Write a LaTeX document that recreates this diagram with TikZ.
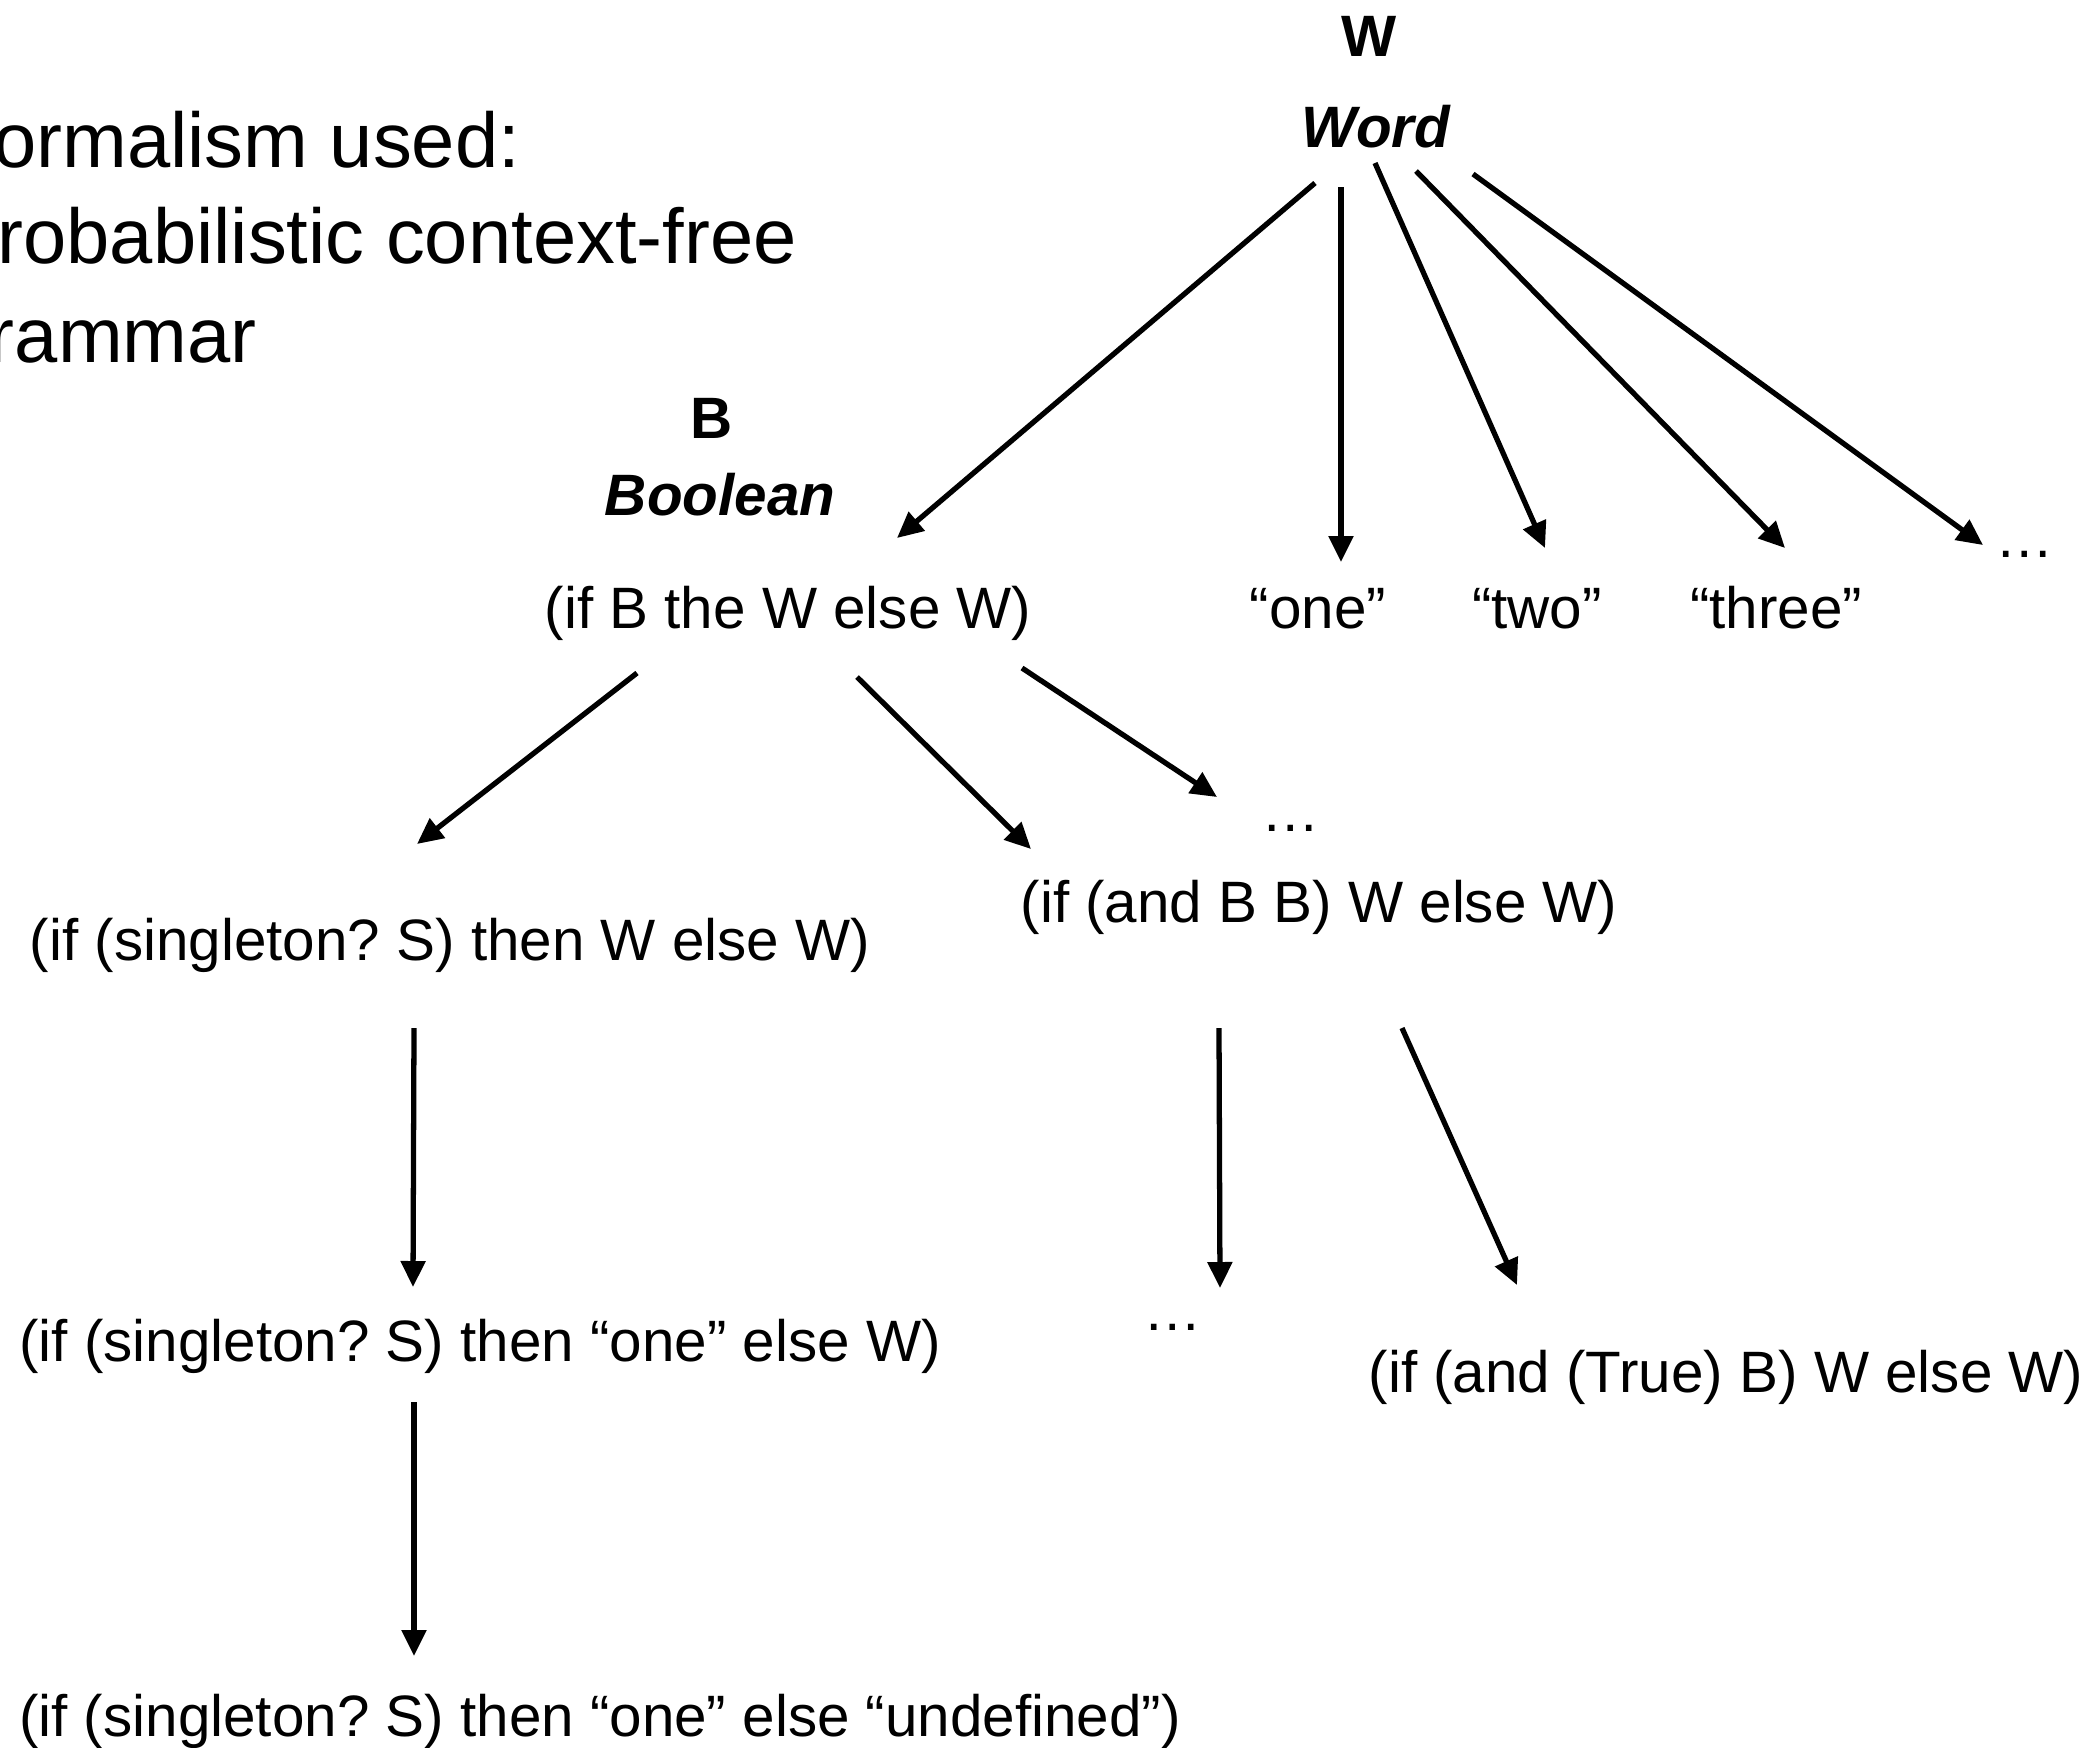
\documentclass[tikz,border=0pt]{standalone}
\usepackage{fontspec}
\setmainfont{Liberation Sans}
\usetikzlibrary{arrows.meta,calc}
\frenchspacing

\tikzset{
  lbl/.style={anchor=base, inner sep=0pt, font=\fontsize{16.6}{20}\selectfont},
  hdr/.style={lbl, font=\fontsize{16.6}{20}\selectfont\bfseries},
  hdri/.style={lbl, font=\fontsize{16.6}{20}\selectfont\bfseries\itshape},
  ttl/.style={anchor=base west, inner sep=0pt, font=\fontsize{22.1}{27}\selectfont},
  arr/.style={-{Triangle[length=0.26cm,width=0.24cm]}, line width=1.5pt},
}

\begin{document}
\begin{tikzpicture}[x=0.01cm, y=-0.01cm]
  \useasboundingbox (0,0) rectangle (2094,1747);

  % heading on the left
  \node[ttl] (ttlA) at (-55,167) {Formalism used:};
  \node[ttl] (ttlB) at (-55,263) {Probabilistic context-free};
  \node[ttl] (ttlC) at (-55,362) {grammar};

  % nonterminals
  \node[hdr]  (wW)   at (1369,56)  {W};
  \node[hdri] (word) at (1376,147) {Word};
  \node[hdr]  (bB)   at (712,438)  {B};
  \node[hdri] (bool) at (720,515)  {Boolean};

  % expansions
  \node[lbl] (ifb)   at (788,628)  {(if B the W else W)};
  \node[lbl] (one)   at (1318,628) {“one”};
  \node[lbl] (two)   at (1537,628) {“two”};
  \node[lbl] (three) at (1776,628) {“three”};
  \node[lbl] (dotsA) at (2025,557) {…};

  \node[lbl] (dotsB)   at (1291,831)  {…};
  \node[lbl] (andbb)   at (1319,922)  {(if (and B B) W else W)};
  \node[lbl] (sing)    at (450,960)   {(if (singleton? S) then W else W)};
  \node[lbl] (singone) at (480,1361)  {(if (singleton? S) then “one” else W)};
  \node[lbl] (dotsC)   at (1173,1330) {…};
  \node[lbl] (andtrue) at (1726,1392) {(if (and (True) B) W else W)};
  \node[lbl] (undef)   at (600,1736)  {(if (singleton? S) then “one” else “undefined”)};

  % Word rules
  \draw[arr] ($(word.base)+(-61,36)$) -- ($(ifb.base)+(109,-90)$);
  \draw[arr] ($(word.base)+(-35,40)$) -- ($(one.base)+(23,-66)$);
  \draw[arr] ($(word.base)+(-1,16)$)  -- ($(two.base)+(8,-80)$);
  \draw[arr] ($(word.base)+(40,24)$)  -- ($(three.base)+(9,-80)$);
  \draw[arr] ($(word.base)+(97,27)$)  -- ($(dotsA.base)+(-42,-12)$);

  % Boolean rules
  \draw[arr] ($(ifb.base)+(-151,45)$) -- ($(sing.base)+(-33,-116)$);
  \draw[arr] ($(ifb.base)+(69,49)$)   -- ($(andbb.base)+(-288,-73)$);
  \draw[arr] ($(ifb.base)+(234,40)$)  -- ($(dotsB.base)+(-74,-34)$);

  % further steps
  \draw[arr] ($(sing.base)+(-36,68)$)    -- ($(singone.base)+(-67,-74)$);
  \draw[arr] ($(andbb.base)+(-100,106)$) -- ($(dotsC.base)+(47,-42)$);
  \draw[arr] ($(andbb.base)+(83,106)$)   -- ($(andtrue.base)+(-209,-107)$);
  \draw[arr] ($(singone.base)+(-66,41)$) -- ($(undef.base)+(-186,-80)$);
\end{tikzpicture}
\end{document}
